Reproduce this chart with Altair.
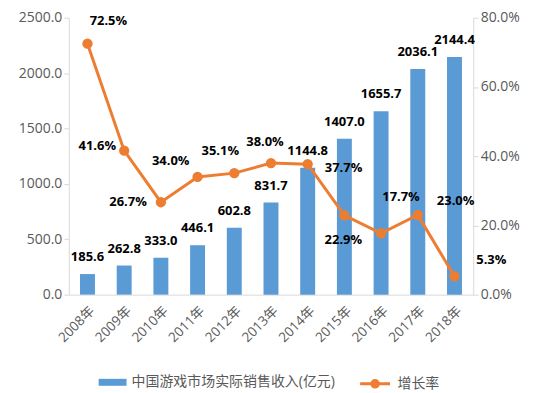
import altair as alt
import pandas as pd

years = ["2008年", "2009年", "2010年", "2011年", "2012年", "2013年",
         "2014年", "2015年", "2016年", "2017年", "2018年"]
revenue = [185.6, 262.8, 333.0, 446.1, 602.8, 831.7, 1144.8, 1407.0, 1655.7, 2036.1, 2144.4]
growth = [72.5, 41.6, 26.7, 34.0, 35.1, 38.0, 37.7, 22.9, 17.7, 23.0, 5.3]
bar_name = "中国游戏市场实际销售收入(亿元)"
line_name = "增长率"

# label placement offsets (pixels) for the growth-rate labels
label_dx = [21, -27, -33, -27, -14, -6, 36, -1, 20, 38, 37]
label_dy = [-23, -5, 0, -16, -22, -21, 4, 25, -36, -14, -16]

df = pd.DataFrame({
    "year": years,
    "revenue": revenue,
    "growth": growth,
    "s": bar_name,
    "g": line_name,
})
df["rev_label"] = df["revenue"].map(lambda v: f"{v:.1f}")
df["g_label"] = df["growth"].map(lambda v: f"{v:.1f}%")

FONT = "Open Sans, Noto Sans CJK SC, sans-serif"
BLUE = "#5B9BD5"
ORANGE = "#ED7D31"
GREY = "#595959"
AXC = "#D9D9D9"

x = alt.X("year:N", sort=years, title=None,
          scale=alt.Scale(paddingInner=0.6, paddingOuter=0.31),
          axis=alt.Axis(labelAngle=-45, ticks=False, domainColor=AXC,
                        labelColor=GREY, labelFontSize=13.5, labelFont=FONT,
                        labelPadding=9))

y_left = alt.Y("revenue:Q", title=None,
               scale=alt.Scale(domain=[0, 2500]),
               axis=alt.Axis(values=[0, 500, 1000, 1500, 2000, 2500], format=".1f",
                             grid=False, domainColor=AXC, tickColor=AXC, tickSize=5,
                             labelColor=GREY, labelFontSize=14, labelFont=FONT,
                             labelPadding=2))

y_right = alt.Y("growth:Q", title=None, scale=alt.Scale(domain=[0, 80]),
                axis=alt.Axis(orient="right", values=[0, 20, 40, 60, 80],
                              labelExpr="format(datum.value / 100, '.1%')",
                              grid=False, domainColor=AXC, tickColor=AXC, tickSize=5,
                              labelColor=GREY, labelFontSize=14, labelFont=FONT,
                              labelPadding=2))

base = alt.Chart(df)

bars = base.mark_bar(size=15).encode(
    x=x,
    y=y_left,
    color=alt.Color("s:N", scale=alt.Scale(domain=[bar_name], range=[BLUE]),
                    legend=alt.Legend(title=None, orient="none", legendX=30, legendY=352,
                                      symbolType="M-1,-0.25H1V0.25H-1Z",
                                      symbolSize=784, symbolStrokeWidth=0,
                                      labelFontSize=14, labelColor=GREY, labelOffset=5,
                                      labelFont=FONT, labelLimit=0)),
)

bar_text = base.mark_text(fontWeight="bold", fontSize=13, font=FONT, color="black",
                          baseline="middle", dy=-17).encode(
    x=x, y=y_left, text="rev_label:N")

left = alt.layer(bars, bar_text)

line = base.mark_line(strokeWidth=3, point=alt.OverlayMarkDef(filled=True, size=70, color=ORANGE)).encode(
    x=x,
    y=y_right,
    stroke=alt.Stroke("g:N", scale=alt.Scale(domain=[line_name], range=[ORANGE]),
                      legend=alt.Legend(title=None, orient="none", legendX=291, legendY=351,
                                        symbolType="M-1,0H1M0.22,0A0.22,0.22,0,1,1,-0.22,0A0.22,0.22,0,1,1,0.22,0",
                                        symbolSize=900, symbolStrokeWidth=3,
                                        symbolFillColor=ORANGE, labelOffset=6,
                                        labelFontSize=14, labelColor=GREY,
                                        labelFont=FONT, labelLimit=0)),
)

g_texts = []
for i, yr in enumerate(years):
    t = base.transform_filter(alt.datum.year == yr).mark_text(
        fontWeight="bold", fontSize=13, font=FONT, color="black",
        baseline="middle", align="center", dx=label_dx[i], dy=label_dy[i]
    ).encode(x=x, y=y_right, text="g_label:N")
    g_texts.append(t)

right = alt.layer(line, *g_texts)

chart = alt.layer(left, right).resolve_scale(y="independent").properties(
    width=406, height=278,
    padding={"left": 10, "top": 2, "right": 5, "bottom": 0},
).configure_view(stroke=None)

chart.save("out.html", embed_options={"renderer": "svg", "actions": False})
